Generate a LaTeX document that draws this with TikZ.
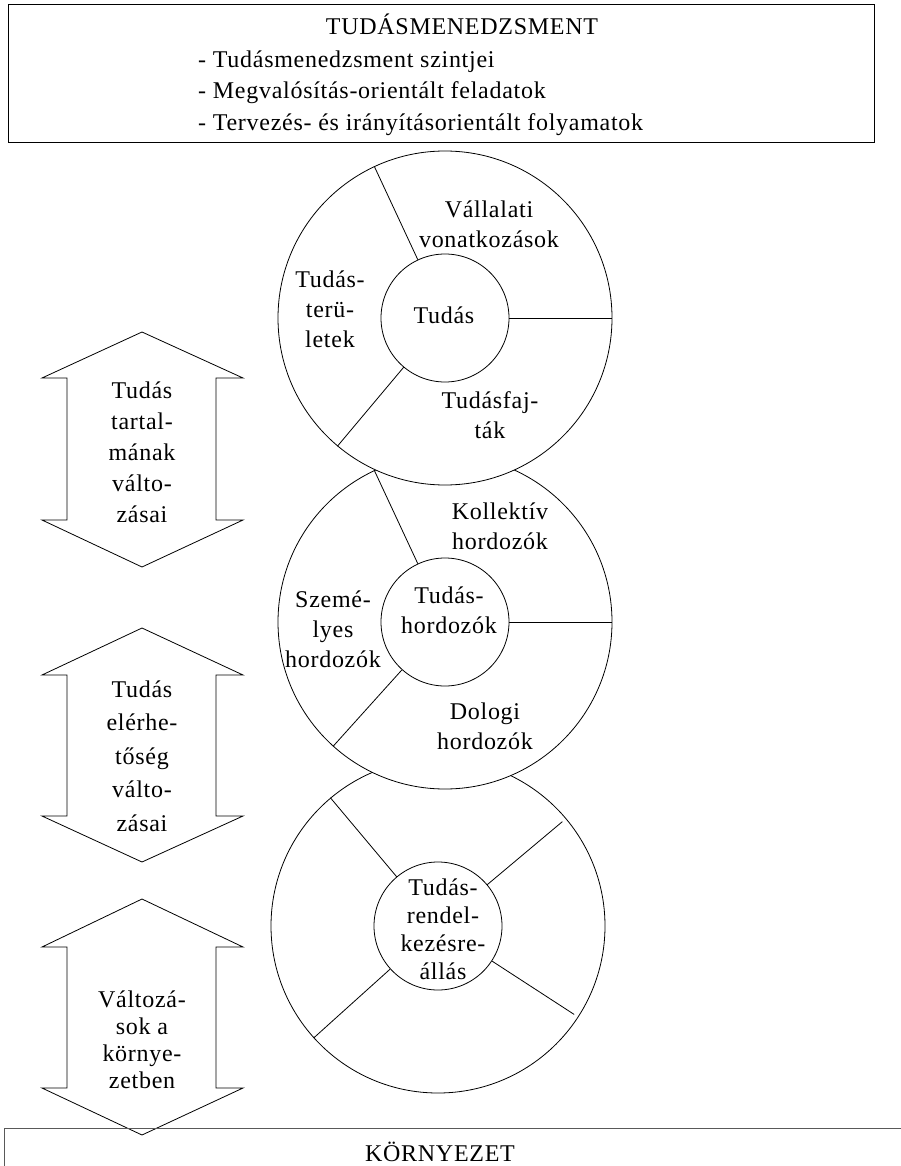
\documentclass[tikz,border=0pt]{standalone}
\usepackage{fontspec}
\setmainfont[LetterSpace=3]{Liberation Serif}
\usetikzlibrary{calc}
\tikzset{
  base/.style={draw=black, line width=0.8pt, line join=miter},
  disc/.style={base, fill=white, circle, inner sep=0pt},
  frame/.style={draw=black!65, line width=0.9pt},
  lab/.style={align=center, inner sep=0pt, font=\fontsize{24}{31}\selectfont},
  labc/.style={align=center, inner sep=0pt, font=\fontsize{24}{30}\selectfont},
}

\begin{document}
\begin{tikzpicture}[x=1pt,y=-1pt]
  \useasboundingbox (0,0) rectangle (901,1166);
  \clip (0,0) rectangle (901,1166);

  % top frame
  \draw[base] (8,4) rectangle (874,142);
  \node[lab, anchor=base] (km) at (462,35) {TUDÁSMENEDZSMENT};
  \node[lab, anchor=base west] (km1) at (198,68) {- Tudásmenedzsment szintjei};
  \node[lab, anchor=base west] (km2) at (198,99) {- Megvalósítás-orientált feladatok};
  \node[lab, anchor=base west] (km3) at (198,131) {- Tervezés- és irányításorientált folyamatok};

  % double arrows on the left
  \foreach \t/\fa/\fb/\b in {332/378/520/567, 628/675/816/862, 899/947/1088/1135}
    \draw[base] (142,\t) -- (243,\fa) -- (216,\fa) -- (216,\fb) -- (243,\fb) -- (142,\b)
      -- (42,\fb) -- (67,\fb) -- (67,\fa) -- (42,\fa) -- cycle;
  \node[lab] (ar1) at (142,452) {Tudás\\tartal-\\mának\\válto-\\zásai};
  \node[lab, font=\fontsize{24}{33.5}\selectfont] (ar2) at (142,756) {Tudás\\elérhe-\\tőség\\válto-\\zásai};
  \node[lab, font=\fontsize{24}{27}\selectfont] (ar3) at (142,1040) {Változá-\\sok a\\környe-\\zetben};

  % third ring
  \coordinate (c3) at (438,926);
  \node[disc, minimum size=334pt] (o3) at (c3) {};
  \node[disc, minimum size=128pt] (i3) at (c3) {};
  \draw[base] (i3.130) -- (o3.130);
  \draw[base] (i3.222) -- (o3.222);
  \draw[base] (i3.40) -- ($(c3)!0.97!(o3.40)$);
  \draw[base] (i3.-33) -- ($(c3)!0.97!(o3.-33)$);

  % second ring
  \coordinate (c2) at (445,622);
  \node[disc, minimum size=334pt] (o2) at (c2) {};
  \node[disc, minimum size=128pt] (i2) at (c2) {};
  \draw[base] (i2.115) -- (o2.115);
  \draw[base] (i2.0) -- (o2.0);
  \draw[base] (i2.228) -- (o2.228);

  % first ring
  \coordinate (c1) at (445,318);
  \node[disc, minimum size=334pt] (o1) at (c1) {};
  \node[disc, minimum size=128pt] (i1) at (c1) {};
  \draw[base] (i1.115) -- (o1.115);
  \draw[base] (i1.0) -- (o1.0);
  \draw[base] (i1.230) -- (o1.230);

  % ring texts
  \node[labc] (tv) at (489,224) {Vállalati\\vonatkozások};
  \node[labc] (tt) at (330,309) {Tudás-\\terü-\\letek};
  \node[labc] (tc) at (444,315) {Tudás};
  \node[labc] (tf) at (490,415) {Tudásfaj-\\ták};
  \node[labc] (hk) at (500,526) {Kollektív\\hordozók};
  \node[labc] (hc) at (449,610) {Tudás-\\hordozók};
  \node[labc] (hs) at (333,629) {Szemé-\\lyes\\hordozók};
  \node[labc] (hd) at (485,726) {Dologi\\hordozók};
  \node[labc, font=\fontsize{24}{28}\selectfont] (rc) at (443,929) {Tudás-\\rendel-\\kezésre-\\állás};

  % bottom frame
  \draw[frame] (4,1128) rectangle (920,1200);
  \node[lab, anchor=base] (env) at (440,1161) {KÖRNYEZET};
\end{tikzpicture}
\end{document}
